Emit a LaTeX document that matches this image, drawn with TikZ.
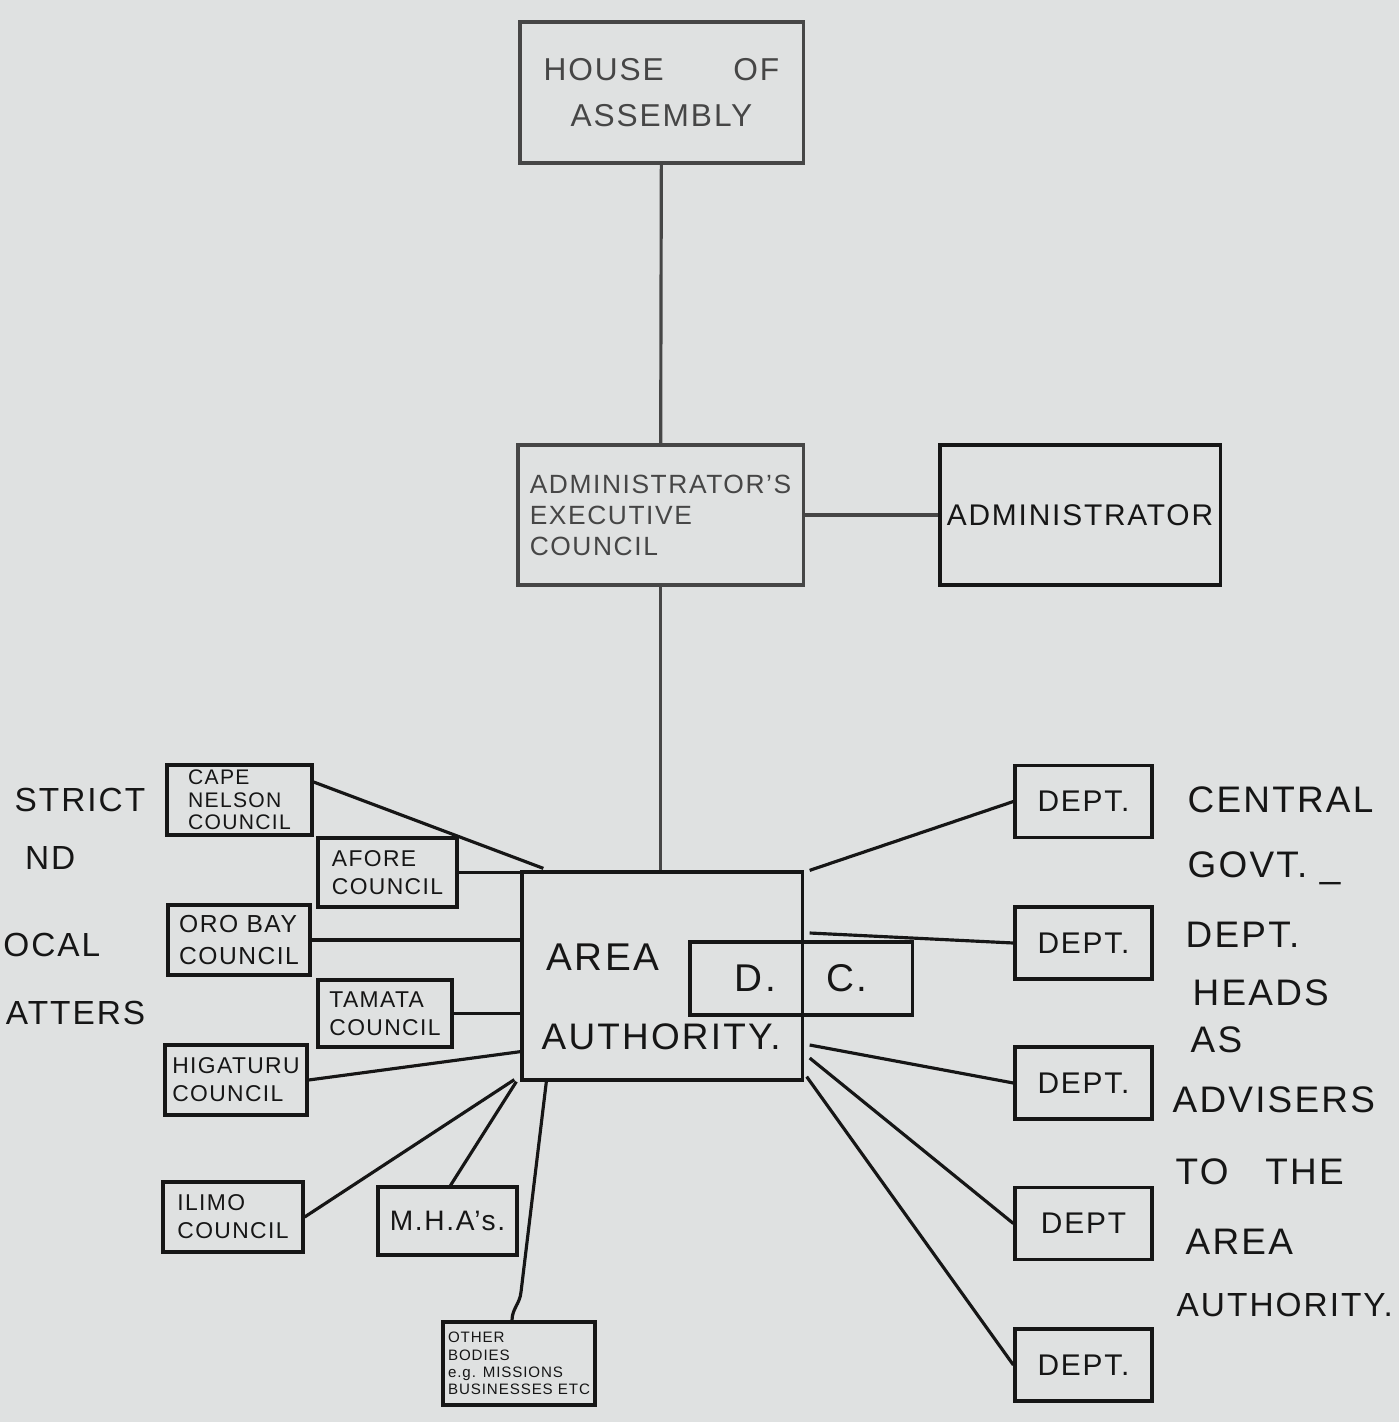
\documentclass[tikz,border=0pt]{standalone}
\usepackage{fontspec}
\setmainfont[LetterSpace=6]{Liberation Sans}
\usepackage{tikz}
\definecolor{paper}{RGB}{223,225,225}
\definecolor{ink}{RGB}{22,22,22}
\definecolor{faint}{RGB}{70,70,70}

\tikzset{
  box/.style={draw=ink, line width=0.9pt, text=ink, align=center, inner sep=1pt},
  topbox/.style={box, draw=faint, text=faint},
  council/.style={box, align=left, font=\fontsize{6.5}{8}\selectfont},
  dept/.style={box, minimum width=1.37cm, minimum height=0.72cm, font=\fontsize{8.5}{10}\selectfont},
  note/.style={inner sep=0pt, text=ink, font=\fontsize{10.5}{13}\selectfont},
  sidenote/.style={note, anchor=east, font=\fontsize{9.5}{12}\selectfont},
  link/.style={draw=ink, line width=0.9pt}
}

\begin{document}
\begin{tikzpicture}[x=0.01cm, y=-0.01cm]
    \useasboundingbox (0,0) rectangle (1399,1422);
    \fill[paper] (0,0) rectangle (1399,1422);

    % 上部
    \node[topbox, minimum width=2.83cm, minimum height=1.41cm, font=\fontsize{9}{13}\selectfont] (hoa) at (661.5,92.5) {HOUSE\hspace{2.2em}OF\\ASSEMBLY};
    \node[topbox, minimum width=2.85cm, minimum height=1.40cm, align=left, font=\fontsize{7.5}{8.8}\selectfont] (aec) at (660.5,515) {ADMINISTRATOR'S\\EXECUTIVE\\COUNCIL};
    \node[box, minimum width=2.80cm, minimum height=1.40cm, font=\fontsize{8.5}{10}\selectfont] (admin) at (1080,515) {ADMINISTRATOR};
    \draw[link, draw=faint] (hoa) -- (aec);
    \draw[link, draw=faint] (aec.east) -- (admin.west);

    % 地区机构
    \node[box, minimum width=2.80cm, minimum height=2.08cm] (aa) at (662,976) {};
    \node[note, anchor=west, font=\fontsize{11}{13}\selectfont] (areatxt) at (546,957) {AREA};
    \node[note, anchor=west] (authtxt) at (541,1037) {AUTHORITY.};
    \node[box, minimum width=2.22cm, minimum height=0.73cm, font=\fontsize{11}{13}\selectfont] (dc) at (801,978.5) {D.\hspace{1.3em}C.};
    \draw[link, draw=faint] (aec.south) -- (aec.south |- aa.north);

    % 左侧议会
    \node[council, minimum width=1.45cm, minimum height=0.70cm, font=\fontsize{6}{6.4}\selectfont] (cape) at (239.5,800) {CAPE\\NELSON\\COUNCIL};
    \node[council, minimum width=1.39cm, minimum height=0.69cm] (afore) at (387.5,872.5) {AFORE\\COUNCIL};
    \node[council, minimum width=1.42cm, minimum height=0.70cm, font=\fontsize{7}{9}\selectfont] (oro) at (239,940) {ORO BAY\\COUNCIL};
    \node[council, minimum width=1.34cm, minimum height=0.67cm] (tamata) at (385,1013.5) {TAMATA\\COUNCIL};
    \node[council, minimum width=1.42cm, minimum height=0.70cm] (higa) at (236,1080) {HIGATURU\\COUNCIL};
    \node[council, minimum width=1.40cm, minimum height=0.70cm] (ilimo) at (233,1217) {ILIMO\\COUNCIL};
    \node[box, minimum width=1.39cm, minimum height=0.68cm, font=\fontsize{8}{10}\selectfont] (mha) at (447.5,1221) {M.H.A's.};
    \node[council, minimum width=1.52cm, minimum height=0.83cm, font=\fontsize{4.3}{4.9}\selectfont] (other) at (519,1363.5) {OTHER\\BODIES\\e.g. MISSIONS\\BUSINESSES ETC};
    \coordinate (bend) at (521,1292);

    \draw[link] (cape.east) ++(0,-18) -- ([shift={(23,-2)}]aa.north west);
    \draw[link] (afore.east) -- (aa.west |- afore.east);
    \draw[link] (oro.east) -- (aa.west |- oro.east);
    \draw[link] (tamata.east) -- (aa.west |- tamata.east);
    \draw[link] (higa.east) -- ([shift={(0,-30)}]aa.south west);
    \draw[link] (ilimo.east) -- ([shift={(-6,-2)}]aa.south west);
    \draw[link] ([shift={(3,0)}]mha.north) -- ([shift={(-4,0)}]aa.south west);
    \draw[link] ([shift={(26,0)}]aa.south west) -- (bend) to[out=-95,in=90] ([shift={(-7,0)}]other.north);

    % 右侧部门
    \node[dept] (dept1) at (1083.5,801.5) {DEPT.};
    \node[dept] (dept2) at (1083.5,943) {DEPT.};
    \node[dept] (dept3) at (1083.5,1083) {DEPT.};
    \node[dept] (dept4) at (1083.5,1223.5) {DEPT};
    \node[dept] (dept5) at (1083.5,1365) {DEPT.};

    \draw[link] (dept1.west) -- ([shift={(6,0)}]aa.north east);
    \draw[link] (dept2.west) -- ([shift={(6,-43)}]aa.east);
    \draw[link] (dept3.west) -- ([shift={(6,69)}]aa.east);
    \draw[link] (dept4.west) -- ([shift={(6,82)}]aa.east);
    \draw[link] (dept5.west) -- ([shift={(3,-5)}]aa.south east);

    % 说明文字 (左边被纸边截去)
    \node[sidenote] (lnote1) at (146,800) {STRICT};
    \node[sidenote] (lnote2) at (76,858) {ND};
    \node[sidenote] (lnote3) at (101,945) {OCAL};
    \node[sidenote] (lnote4) at (146,1013) {ATTERS};

    \node[note, anchor=west] (rnote1) at (1187,800) {CENTRAL};
    \node[note, anchor=west] (rnote2) at (1187,868) {GOVT.\ \_};
    \node[note, anchor=west] (rnote3) at (1185,935) {DEPT.};
    \node[note, anchor=west] (rnote4) at (1192,993) {HEADS};
    \node[note, anchor=west] (rnote5) at (1190,1040) {AS};
    \node[note, anchor=west] (rnote6) at (1172,1100) {ADVISERS};
    \node[note, anchor=west] (rnote7) at (1175,1172) {TO\hspace{1em}THE};
    \node[note, anchor=west] (rnote8) at (1185,1242) {AREA};
    \node[note, anchor=west, font=\fontsize{9.5}{12}\selectfont] (rnote9) at (1176,1305) {AUTHORITY.};
\end{tikzpicture}
\end{document}
